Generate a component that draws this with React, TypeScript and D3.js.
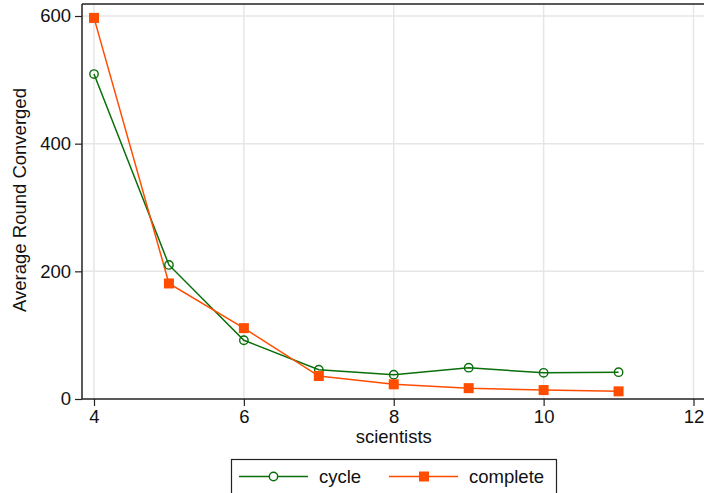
import React, { useEffect, useRef } from 'react'
import * as d3 from 'd3'

const scientists = [4, 5, 6, 7, 8, 9, 10, 11]
const cycle = [509, 210, 92, 46, 38, 49, 41, 42]
const complete = [597, 181, 111, 36, 23, 17, 14, 12]
const xTicks = [4, 6, 8, 10, 12]
const yTicks = [0, 200, 400, 600]

const green = '#0a6e0a'
const orange = '#ff4d00'
const grid = '#e6e6e6'
const font = 'Liberation Sans, Arial, sans-serif'
const fs = 18.5

const W = 704
const H = 493

const App = () => {
  const svgRef = useRef(null)

  useEffect(() => {
    const svg = d3.select(svgRef.current)
    svg.selectAll('*').remove()

    const left = 82
    const top = 4
    const x = d3.scaleLinear().domain([4, 12]).range([94, 693.5])
    const y = d3.scaleLinear().domain([0, 600]).range([399, 16])
    const bottom = y(0)
    const right = W + 5

    // gridlines
    svg.append('g')
      .selectAll('line')
      .data(xTicks)
      .join('line')
        .attr('x1', d => x(d)).attr('x2', d => x(d))
        .attr('y1', top).attr('y2', bottom)
        .attr('stroke', grid).attr('stroke-width', 1.5)
    svg.append('g')
      .selectAll('line')
      .data(yTicks.filter(d => d > 0))
      .join('line')
        .attr('x1', left).attr('x2', right)
        .attr('y1', d => y(d)).attr('y2', d => y(d))
        .attr('stroke', grid).attr('stroke-width', 1.5)

    // plot border top
    svg.append('line')
      .attr('x1', left).attr('x2', right).attr('y1', top).attr('y2', top)
      .attr('stroke', '#222').attr('stroke-width', 1.3)

    // axes
    const yAxis = svg.append('g')
      .attr('transform', `translate(${left},0)`)
      .call(d3.axisLeft(y).tickValues(yTicks).tickSize(7).tickPadding(4).tickFormat(d3.format('d')))
    yAxis.select('.domain').attr('d', `M0,${top}V${bottom}`).attr('stroke', '#222').attr('stroke-width', 1.5)
    yAxis.selectAll('line').attr('stroke', '#222').attr('stroke-width', 1.2)
    yAxis.selectAll('text').attr('font-family', font).attr('font-size', fs).attr('fill', '#111')

    const xAxis = svg.append('g')
      .attr('transform', `translate(0,${bottom})`)
      .call(d3.axisBottom(x).tickValues(xTicks).tickSize(7).tickPadding(4).tickFormat(d3.format('d')))
    xAxis.select('.domain').attr('d', `M${left},0H${right}`).attr('stroke', '#222').attr('stroke-width', 1.5)
    xAxis.selectAll('line').attr('stroke', '#222').attr('stroke-width', 1.2)
    xAxis.selectAll('text').attr('font-family', font).attr('font-size', fs).attr('fill', '#111')

    // axis titles
    svg.append('text')
      .text('Average Round Converged')
      .attr('transform', `translate(26,200) rotate(-90)`)
      .attr('text-anchor', 'middle')
      .attr('font-family', font).attr('font-size', fs).attr('fill', '#111')
    svg.append('text')
      .text('scientists')
      .attr('x', x(8)).attr('y', 443)
      .attr('text-anchor', 'middle')
      .attr('font-family', font).attr('font-size', fs).attr('fill', '#111')

    const line = d3.line<number>().x((d, i) => x(scientists[i])).y(d => y(d))

    // series
    svg.append('path').datum(cycle).attr('d', line)
      .attr('fill', 'none').attr('stroke', green).attr('stroke-width', 1.5)
    svg.append('path').datum(complete).attr('d', line)
      .attr('fill', 'none').attr('stroke', orange).attr('stroke-width', 1.5)

    svg.append('g').selectAll('circle').data(cycle).join('circle')
      .attr('cx', (d, i) => x(scientists[i])).attr('cy', d => y(d)).attr('r', 4.2)
      .attr('fill', 'none').attr('stroke', green).attr('stroke-width', 1.4)
    svg.append('g').selectAll('rect').data(complete).join('rect')
      .attr('x', (d, i) => x(scientists[i]) - 5).attr('y', d => y(d) - 5)
      .attr('width', 10).attr('height', 10).attr('fill', orange)

    // legend
    const lg = svg.append('g')
    lg.append('rect')
      .attr('x', 231.5).attr('y', 459.5).attr('width', 325).attr('height', 50)
      .attr('fill', 'white').attr('stroke', '#222').attr('stroke-width', 1.2)
    const ly = 476.5
    lg.append('line').attr('x1', 239).attr('x2', 308).attr('y1', ly).attr('y2', ly)
      .attr('stroke', green).attr('stroke-width', 1.5)
    lg.append('circle').attr('cx', 273.5).attr('cy', ly).attr('r', 4.2)
      .attr('fill', 'white').attr('stroke', green).attr('stroke-width', 1.4)
    lg.append('text').text('cycle').attr('x', 319).attr('y', ly + 6.5)
      .attr('font-family', font).attr('font-size', fs).attr('fill', '#111')
    lg.append('line').attr('x1', 389).attr('x2', 458).attr('y1', ly).attr('y2', ly)
      .attr('stroke', orange).attr('stroke-width', 1.5)
    lg.append('rect').attr('x', 419).attr('y', ly - 5).attr('width', 10).attr('height', 10)
      .attr('fill', orange)
    lg.append('text').text('complete').attr('x', 469).attr('y', ly + 6.5)
      .attr('font-family', font).attr('font-size', fs).attr('fill', '#111')
  }, [])

  return (
    <svg ref={svgRef} width={W} height={H}
      style={{ position: 'absolute', left: 0, top: 0, background: 'white' }}></svg>
  )
}

export default App
